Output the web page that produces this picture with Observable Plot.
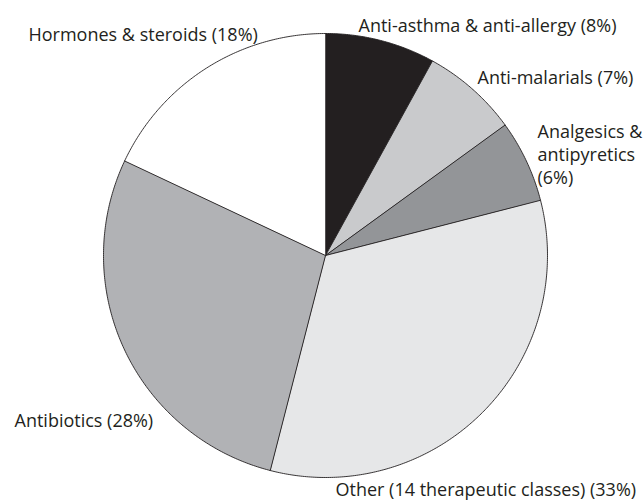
<!DOCTYPE html>
<html>
<head>
<meta charset="utf-8">
<script src="https://cdn.jsdelivr.net/npm/d3@7"></script>
<script src="https://cdn.jsdelivr.net/npm/@observablehq/plot@0.6"></script>
<style>
  html, body { margin: 0; padding: 0; background: #fff; }
  #chart svg { display: block; }
</style>
</head>
<body>
<div id="chart"></div>
<script>
// Data
const categories = [
  "Anti-asthma & anti-allergy",
  "Anti-malarials",
  "Analgesics & antipyretics",
  "Other (14 therapeutic classes)",
  "Antibiotics",
  "Hormones & steroids"
];
const shares = [8, 7, 6, 33, 28, 18];
const labelTexts = [
  "Anti-asthma & anti-allergy (8%)",
  "Anti-malarials (7%)",
  "Analgesics &\nantipyretics\n(6%)",
  "Other (14 therapeutic classes) (33%)",
  "Antibiotics (28%)",
  "Hormones & steroids (18%)"
];

// Styles
const fills = ["#231f20", "#c9cacc", "#939598", "#e6e7e8", "#b1b2b5", "#ffffff"];
// Label layout (pixel positions of label centres in the 643x501 picture)
const labelPx = [
  [358, 24], [477, 76], [537, 153], [335, 488], [14, 419], [28, 33]
];

const W = 643, H = 501;
const cx = 325, cy = 255, R = 222;

const rows = categories.map((c, i) => ({category: c, share: shares[i], fill: fills[i], label: labelTexts[i]}));
const arcs = d3.pie().sort(null).value(d => d.share)(rows);

function sector(a0, a1) {
  const pts = [[0, 0]];
  const n = Math.max(2, Math.ceil((a1 - a0) / (Math.PI / 360)));
  for (let k = 0; k <= n; k++) {
    const a = a0 + (a1 - a0) * k / n;
    pts.push([Math.sin(a), Math.cos(a)]);
  }
  pts.push([0, 0]);
  return pts;
}
const features = arcs.map(a => ({
  type: "Feature",
  properties: {fill: a.data.fill, category: a.data.category},
  geometry: {type: "Polygon", coordinates: [sector(a.startAngle, a.endAngle)]}
}));
const circle = {type: "Feature", properties: {}, geometry: {type: "Polygon", coordinates: [sector(0, 2 * Math.PI).slice(1, -1).concat([[0, 1]])]}};

const labels = rows.map((r, i) => ({
  text: r.label,
  x: (labelPx[i][0] - cx) / R,
  y: (cy - labelPx[i][1]) / R
}));

const chart = Plot.plot({
  width: W,
  height: H,
  marginLeft: cx - R,
  marginRight: W - cx - R,
  marginTop: cy - R,
  marginBottom: H - cy - R,
  style: {fontFamily: "'Open Sans', sans-serif", fontSize: "18px", color: "#231f20", overflow: "visible"},
  projection: {type: "reflect-y", domain: circle, inset: 0, clip: false},
  marks: [
    Plot.geo(features, {fill: d => d.properties.fill, stroke: "#231f20", strokeWidth: 0.9}),
    Plot.text(labels, {x: "x", y: "y", text: "text", textAnchor: "start", lineAnchor: "middle", lineHeight: 1.28, fill: "#231f20", fontSize: "18px", clip: false})
  ]
});
document.getElementById("chart").appendChild(chart);
</script>
</body>
</html>
